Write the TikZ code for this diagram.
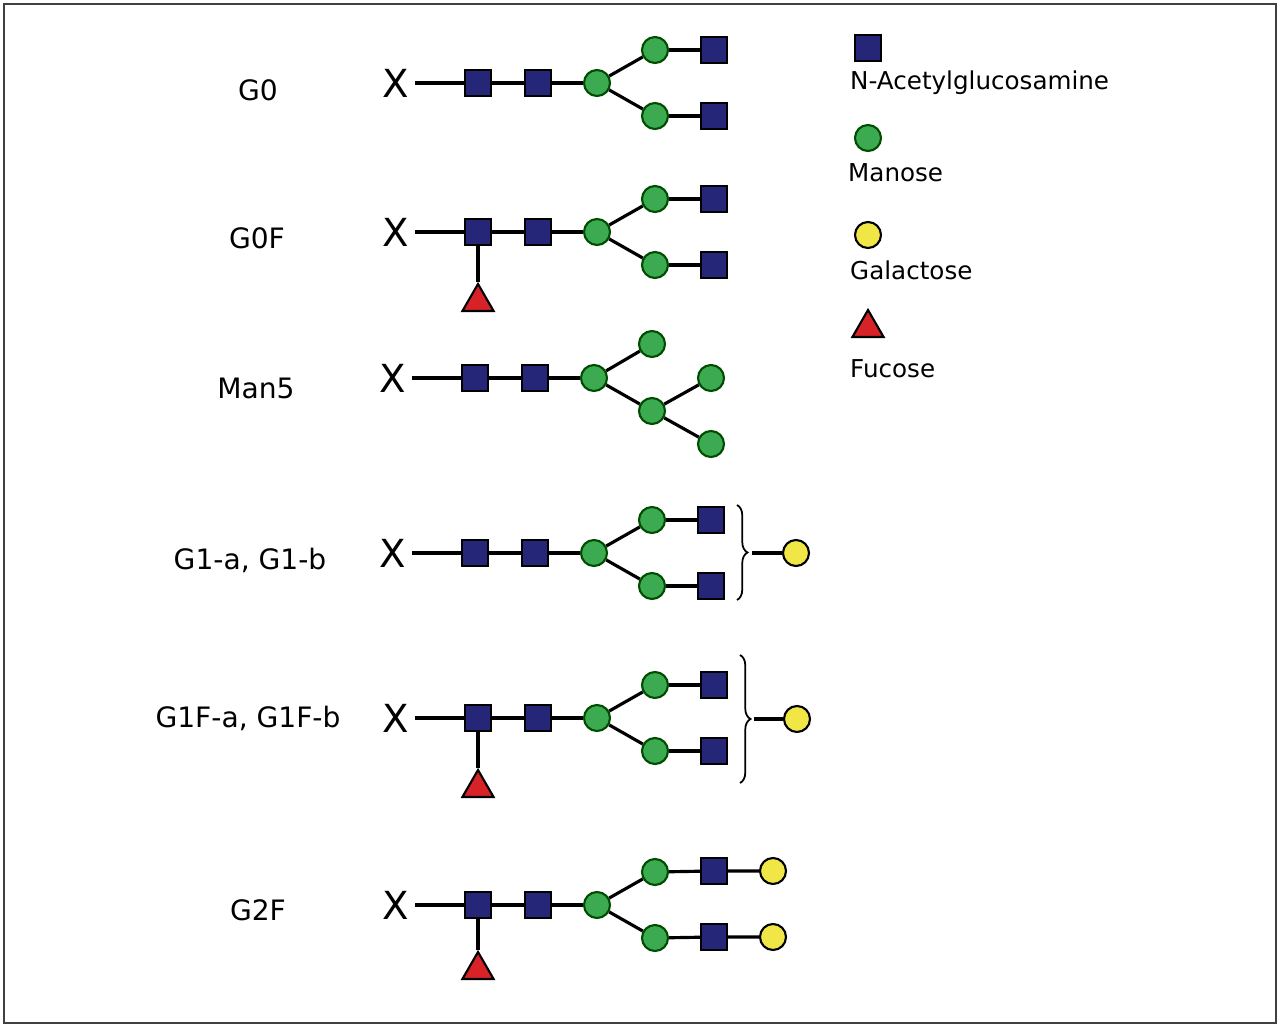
\documentclass[tikz,border=0pt]{standalone}
\usepackage{fontspec}
\setmainfont{DejaVu Sans}
\usetikzlibrary{shapes.geometric,decorations.pathreplacing}

\tikzset{
  glcnac/.style={draw=black,fill={rgb,255:red,38;green,38;blue,120},line width=1.2pt,minimum size=26*0.02cm,inner sep=0pt},
  man/.style={circle,draw=black!70!green,fill={rgb,255:red,60;green,170;blue,80},line width=1.2pt,minimum size=26*0.02cm,inner sep=0pt},
  gal/.style={circle,draw=black,fill={rgb,255:red,240;green,230;blue,70},line width=1.2pt,minimum size=26*0.02cm,inner sep=0pt},
  fuc/.style={regular polygon,regular polygon sides=3,draw=black,fill={rgb,255:red,215;green,35;blue,40},line width=1.2pt,minimum size=36*0.02cm,inner sep=0pt},
  bond/.style={line width=1.8pt},
  rowlabel/.style={font=\fontsize{16}{18}\selectfont},
  legend/.style={font=\fontsize{14}{16}\selectfont,anchor=west}
}

% core: X -- GlcNAc -- GlcNAc -- Man, with two arms
\newcommand{\glycore}[2]{%
  \node[font=\fontsize{22}{24}\selectfont] (#1x) at (396,#2) {X};
  \node[glcnac] (#1a) at (478,#2) {};
  \node[glcnac] (#1b) at (538,#2) {};
  \node[man] (#1m) at (597,#2) {};
  \draw[bond] (#1x) -- (#1a) -- (#1b) -- (#1m);
}
\newcommand{\glyarms}[2]{%
  \node[man] (#1u) at (655,#2+33) {};
  \node[man] (#1d) at (655,#2-33) {};
  \draw[bond] (#1m) -- (#1u);
  \draw[bond] (#1m) -- (#1d);
}

\begin{document}
\begin{tikzpicture}[x=0.02cm,y=0.02cm]
\useasboundingbox (0,0) rectangle (1280,1027);
\draw[line width=1pt,black!75] (4,4) rectangle (1276,1023);

% G0
\node[rowlabel] (lgzero) at (258,937) {G0};
\glycore{gz}{944}
\glyarms{gz}{944}
\node[glcnac] (gzu2) at (714,977) {};
\node[glcnac] (gzd2) at (714,911) {};
\draw[bond] (gzu) -- (gzu2);
\draw[bond] (gzd) -- (gzd2);

% G0F
\node[rowlabel] (lgzf) at (257,789) {G0F};
\glycore{gf}{795}
\glyarms{gf}{795}
\node[glcnac] (gfu2) at (714,828) {};
\node[glcnac] (gfd2) at (714,762) {};
\node[fuc] (gff) at (478,725) {};
\draw[bond] (gfu) -- (gfu2);
\draw[bond] (gfd) -- (gfd2);
\draw[bond] (gfa) -- (gff);

% Man5
\node[rowlabel] (lman) at (256,639) {Man5};
\begin{scope}[xshift=-3*0.02cm]
\glycore{mf}{649}
\node[man] (mfu) at (655,683) {};
\node[man] (mfd) at (655,616) {};
\node[man] (mfdu) at (714,649) {};
\node[man] (mfdd) at (714,583) {};
\draw[bond] (mfm) -- (mfu);
\draw[bond] (mfm) -- (mfd);
\draw[bond] (mfd) -- (mfdu);
\draw[bond] (mfd) -- (mfdd);
\end{scope}

% G1-a, G1-b
\node[rowlabel] (lgone) at (250,467) {G1-a, G1-b};
\begin{scope}[xshift=-3*0.02cm]
\glycore{go}{474}
\glyarms{go}{474}
\node[glcnac] (gou2) at (714,507) {};
\node[glcnac] (god2) at (714,441) {};
\draw[bond] (gou) -- (gou2);
\draw[bond] (god) -- (god2);
\end{scope}
\coordinate (gobt) at (737,522);
\coordinate (gobb) at (737,427);
\draw[line width=1pt,decorate,decoration={brace,amplitude=6pt}] (gobt) -- (gobb);
\node[gal] (gog) at (796,474) {};
\coordinate (gol) at (752,474);
\draw[bond] (gol) -- (gog);

% G1F-a, G1F-b
\node[rowlabel] (lgonef) at (248,309) {G1F-a, G1F-b};
\glycore{gof}{309}
\glyarms{gof}{309}
\node[glcnac] (gofu2) at (714,342) {};
\node[glcnac] (gofd2) at (714,276) {};
\node[fuc] (goff) at (478,239) {};
\draw[bond] (gofu) -- (gofu2);
\draw[bond] (gofd) -- (gofd2);
\draw[bond] (gofa) -- (goff);
\coordinate (gofbt) at (740,372);
\coordinate (gofbb) at (740,244);
\draw[line width=1pt,decorate,decoration={brace,amplitude=6pt}] (gofbt) -- (gofbb);
\node[gal] (gofg) at (797,308) {};
\coordinate (gofl) at (754,308);
\draw[bond] (gofl) -- (gofg);

% G2F
\node[rowlabel] (lgtwo) at (258,117) {G2F};
\glycore{gt}{122}
\glyarms{gt}{122}
\node[glcnac] (gtu2) at (714,156) {};
\node[glcnac] (gtd2) at (714,90) {};
\node[gal] (gtu3) at (773,156) {};
\node[gal] (gtd3) at (773,90) {};
\node[fuc] (gtf) at (478,57) {};
\draw[bond] (gtu) -- (gtu2) -- (gtu3);
\draw[bond] (gtd) -- (gtd2) -- (gtd3);
\draw[bond] (gta) -- (gtf);

% legend
\node[glcnac] (kglc) at (868,979) {};
\node[legend] (tglc) at (844,944) {N-Acetylglucosamine};
\node[man] (kman) at (868,889) {};
\node[legend] (tman) at (842,854) {Manose};
\node[gal] (kgal) at (868,792) {};
\node[legend] (tgal) at (844,757) {Galactose};
\node[fuc] (kfuc) at (868,699) {};
\node[legend] (tfuc) at (844,658) {Fucose};
\end{tikzpicture}
\end{document}
